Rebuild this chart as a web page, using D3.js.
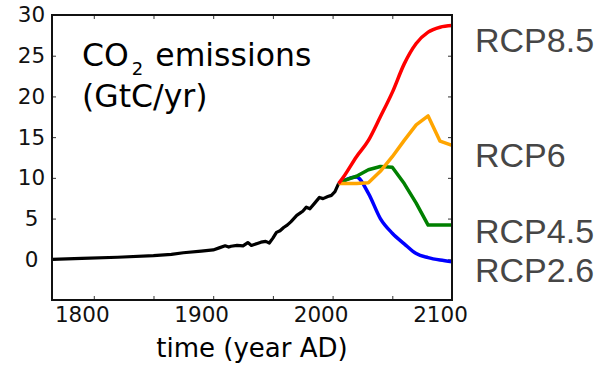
<!DOCTYPE html>
<html>
<head>
<meta charset="utf-8">
<script src="https://cdn.jsdelivr.net/npm/d3@7"></script>
<style>
  body { margin: 0; background: #fff; }
  svg { display: block; }
</style>
</head>
<body>
<div id="chart"></div>
<script>
// historical emissions (GtC/yr)
const histYears = [1765, 1790, 1820, 1850, 1865, 1875, 1890, 1900, 1905, 1910, 1913, 1915, 1920, 1925, 1929, 1932, 1937, 1940, 1944, 1947, 1950, 1953, 1956, 1959, 1962, 1965, 1970, 1973, 1975, 1978, 1981, 1985, 1989, 1992, 1996, 1999, 2002, 2005];
const histValues = [0.0, 0.1, 0.25, 0.45, 0.6, 0.8, 1.0, 1.15, 1.4, 1.65, 1.5, 1.6, 1.7, 1.65, 2.05, 1.7, 1.95, 2.1, 2.2, 2.0, 2.6, 3.3, 3.5, 3.9, 4.2, 4.6, 5.4, 5.7, 5.9, 6.4, 6.2, 6.9, 7.6, 7.45, 7.7, 7.85, 8.3, 9.3];

// scenario years and values
const rcpYears = [2005, 2010, 2020, 2030, 2040, 2050, 2060, 2070, 2080, 2090, 2100];
const rcp26 = [9.3, 9.7, 10.1, 8.1, 5.0, 3.2, 1.9, 0.7, 0.2, -0.1, -0.3];
const rcp45 = [9.3, 9.7, 10.2, 11.0, 11.4, 11.3, 9.3, 6.9, 4.2, 4.2, 4.2];
const rcp60 = [9.3, 9.3, 9.3, 9.4, 10.8, 12.6, 14.6, 16.5, 17.6, 14.5, 14.0];
const rcp85 = [9.3, 10.3, 12.6, 14.6, 17.5, 20.5, 24.0, 26.5, 27.9, 28.5, 28.7];

const scenarioNames = ["RCP2.6", "RCP4.5", "RCP6", "RCP8.5"];
const scenarioColors = ["#0000ff", "#008000", "#ffa500", "#ff0000"];
const scenarioValues = [rcp26, rcp45, rcp60, rcp85];
const labelBaselines = [281.7, 243.3, 166.7, 51.7];

const xTicks = [1800, 1850, 1900, 1950, 2000, 2050, 2100];
const yTicks = [-5, 0, 5, 10, 15, 20, 25, 30];

const width = 600;
const height = 368;
const margin = { top: 15, right: 148, bottom: 68, left: 52 };
const innerW = width - margin.left - margin.right;
const innerH = height - margin.top - margin.bottom;

const svg = d3.select("#chart")
  .append("svg")
  .attr("width", width)
  .attr("height", height);

const x = d3.scaleLinear().domain([1765, 2100]).range([margin.left, margin.left + innerW]);
const y = d3.scaleLinear().domain([-5, 30]).range([margin.top + innerH, margin.top]);

svg.append("defs").append("clipPath")
  .attr("id", "plot-clip")
  .append("rect")
  .attr("x", margin.left)
  .attr("y", margin.top)
  .attr("width", innerW)
  .attr("height", innerH);

// axes, ticks pointing inward
const fmtX = d => (d % 100 === 0 ? d : "");
const fmtY = d => (d < 0 ? "" : d);

const bottomAxis = svg.append("g")
  .attr("transform", `translate(0,${margin.top + innerH})`)
  .call(d3.axisBottom(x).tickValues(xTicks).tickFormat(fmtX).tickSizeInner(-4).tickSizeOuter(0).tickPadding(7));

const topAxis = svg.append("g")
  .attr("transform", `translate(0,${margin.top})`)
  .call(d3.axisTop(x).tickValues(xTicks).tickFormat("").tickSizeInner(-4).tickSizeOuter(0));

const leftAxis = svg.append("g")
  .attr("transform", `translate(${margin.left},0)`)
  .call(d3.axisLeft(y).tickValues(yTicks).tickFormat(fmtY).tickSizeInner(-4).tickSizeOuter(0));

const rightAxis = svg.append("g")
  .attr("transform", `translate(${margin.left + innerW},0)`)
  .call(d3.axisRight(y).tickValues(yTicks).tickFormat("").tickSizeInner(-4).tickSizeOuter(0));

[bottomAxis, topAxis, leftAxis, rightAxis].forEach(g => {
  g.select(".domain").remove();
  g.selectAll(".tick line").attr("stroke", "#333").attr("stroke-width", 1);
});

bottomAxis.selectAll("text")
  .attr("dx", -12)
  .style("font-family", "DejaVu Sans")
  .style("font-size", "21.5px")
  .attr("fill", "#111");

leftAxis.selectAll("text")
  .attr("x", -20.5)
  .attr("text-anchor", "middle")
  .style("font-family", "DejaVu Sans")
  .style("font-size", "21.5px")
  .attr("fill", "#111");

// lines
const line = d3.line()
  .x(d => x(d[0]))
  .y(d => y(d[1]));

const smoothLine = d3.line()
  .x(d => x(d[0]))
  .y(d => y(d[1]))
  .curve(d3.curveMonotoneX);

const plot = svg.append("g").attr("clip-path", "url(#plot-clip)");

plot.append("path")
  .datum(histYears.map((yr, i) => [yr, histValues[i]]))
  .attr("d", line)
  .attr("fill", "none")
  .attr("stroke", "#000")
  .attr("stroke-width", 3.2)
  .attr("stroke-linejoin", "round");

scenarioValues.forEach((vals, k) => {
  // RCP8.5 and RCP2.6 look smooth, the others have kinks
  const gen = (k === 0 || k === 3) ? smoothLine : line;
  plot.append("path")
    .datum(rcpYears.map((yr, i) => [yr, vals[i]]))
    .attr("d", gen)
    .attr("fill", "none")
    .attr("stroke", scenarioColors[k])
    .attr("stroke-width", 3.5)
    .attr("stroke-linejoin", "round");
});

// frame
svg.append("rect")
  .attr("x", margin.left)
  .attr("y", margin.top)
  .attr("width", innerW)
  .attr("height", innerH)
  .attr("fill", "none")
  .attr("stroke", "#111")
  .attr("stroke-width", 2);

// scenario labels
scenarioNames.forEach((name, k) => {
  svg.append("text")
    .attr("x", 475)
    .attr("y", labelBaselines[k])
    .style("font-family", "Liberation Sans")
    .style("font-size", "34px")
    .attr("fill", "#464646")
    .text(name);
});

// in-plot title
const title = svg.append("text")
  .attr("x", 82)
  .attr("y", 65.7)
  .style("font-family", "DejaVu Sans")
  .style("font-size", "31.5px")
  .attr("fill", "#000");
title.append("tspan").text("CO");
title.append("tspan").attr("dx", 3).attr("dy", 9).style("font-size", "18px").text("2");
title.append("tspan").attr("dx", 2).attr("dy", -9).text(" emissions");

svg.append("text")
  .attr("x", 82)
  .attr("y", 107.3)
  .style("font-family", "DejaVu Sans")
  .style("font-size", "31.5px")
  .attr("fill", "#000")
  .text("(GtC/yr)");

// x axis title
svg.append("text")
  .attr("x", margin.left + innerW / 2)
  .attr("y", 356.7)
  .attr("text-anchor", "middle")
  .style("font-family", "DejaVu Sans")
  .style("font-size", "26px")
  .attr("fill", "#000")
  .text("time (year AD)");
</script>
</body>
</html>
